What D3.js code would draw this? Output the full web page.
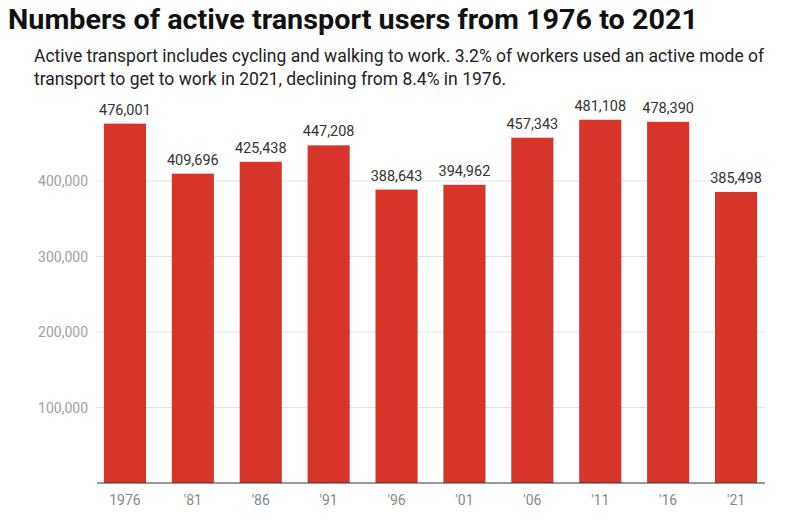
<!DOCTYPE html>
<html><head><meta charset="utf-8">
<script src="https://cdn.jsdelivr.net/npm/d3@7"></script>
<style>
body{margin:0;background:#fff;font-family:Roboto,"Noto Sans",sans-serif;}
</style></head><body>
<svg id="chart" width="800" height="530"></svg>
<script>
const years = ["1976","'81","'86","'91","'96","'01","'06","'11","'16","'21"];
const users = [476001,409696,425438,447208,388643,394962,457343,481108,478390,385498];
const yTicks = [100000,200000,300000,400000];

const svg = d3.select('#chart');
const fmt = d3.format(',');

svg.append('text').attr('x',8).attr('y',29)
  .attr('font-size',28).attr('font-weight',700).attr('fill','#111')
  .attr('textLength',690).attr('lengthAdjust','spacingAndGlyphs')
  .text('Numbers of active transport users from 1976 to 2021');
svg.append('text').attr('x',34).attr('y',62).attr('font-size',17.5).attr('fill','#222')
  .text('Active transport includes cycling and walking to work. 3.2% of workers used an active mode of');
svg.append('text').attr('x',34).attr('y',85).attr('font-size',17.5).attr('fill','#222')
  .text('transport to get to work in 2021, declining from 8.4% in 1976.');

const x = d3.scaleBand().domain(years).range([91,770]).paddingInner(0.38).paddingOuter(0.19);
const y = d3.scaleLinear().domain([0,100000]).range([483,407.5]);

// grid
svg.selectAll('.grid').data(yTicks).join('line')
  .attr('x1',97).attr('x2',765)
  .attr('y1',d=>y(d)).attr('y2',d=>y(d))
  .attr('stroke','#e3e3e3');
svg.selectAll('.ylab').data(yTicks).join('text')
  .attr('x',88).attr('y',d=>y(d)+5).attr('text-anchor','end')
  .attr('font-size',14).attr('fill','#a0a0a0').text(fmt);

// bars
svg.selectAll('.bar').data(users).join('rect')
  .attr('x',(d,i)=>x(years[i])).attr('width',x.bandwidth())
  .attr('y',d=>y(d)).attr('height',d=>y(0)-y(d))
  .attr('fill','#d8352a');
svg.selectAll('.val').data(users).join('text')
  .attr('x',(d,i)=>x(years[i])+x.bandwidth()/2).attr('y',d=>y(d)-9)
  .attr('text-anchor','middle').attr('font-size',14.5).attr('fill','#333')
  .text(fmt);

// baseline + x axis labels
svg.append('line').attr('x1',97).attr('x2',765).attr('y1',y(0)).attr('y2',y(0))
  .attr('stroke','#333').attr('stroke-width',1);
svg.selectAll('.xlab').data(years).join('text')
  .attr('x',d=>x(d)+x.bandwidth()/2).attr('y',505)
  .attr('text-anchor','middle').attr('font-size',14).attr('fill','#888')
  .text(d=>d);
</script>
</body></html>
